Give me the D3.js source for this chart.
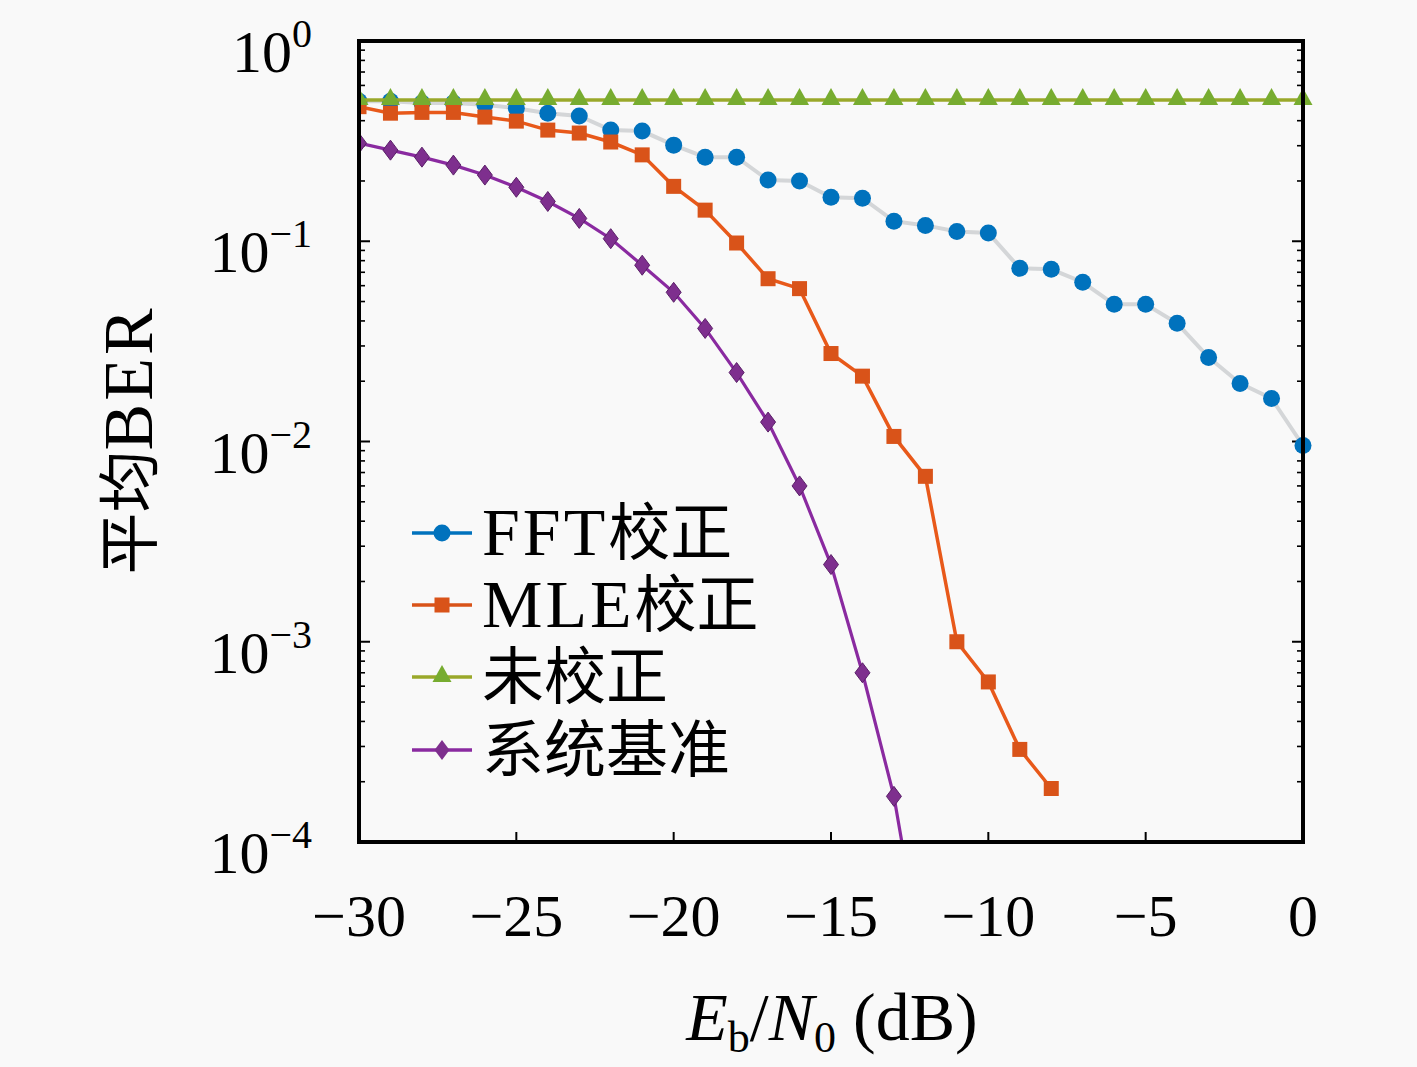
<!DOCTYPE html>
<html>
<head>
<meta charset="utf-8">
<script src="https://cdn.jsdelivr.net/npm/d3@7"></script>
<style>
  body { margin: 0; background: #f9f9f9; }
  svg { display: block; }
</style>
</head>
<body>
<div id="chart"></div>
<script>
// x values (dB)
const snr = d3.range(-30, 1, 1);

// series values
const fftBer = [0.50, 0.50, 0.49, 0.49, 0.48, 0.462, 0.436, 0.422, 0.359, 0.355,
  0.302, 0.263, 0.263, 0.202, 0.200, 0.166, 0.164, 0.126, 0.120, 0.112,
  0.110, 0.0733, 0.0724, 0.0624, 0.0484, 0.0484, 0.0389, 0.0263, 0.0195, 0.0164, 0.00955];
const mleSnr = d3.range(-30, -7, 1);
const mleBer = [0.47, 0.436, 0.44, 0.44, 0.417, 0.398, 0.359, 0.347, 0.313, 0.27,
  0.188, 0.143, 0.098, 0.065, 0.058, 0.0275, 0.0212, 0.0106, 0.0067, 0.001,
  0.00063, 0.00029, 0.000185];
const rawBer = snr.map(() => 0.507);
const refSnr = d3.range(-30, -11, 1);
const refBer = [0.309, 0.285, 0.263, 0.24, 0.214, 0.186, 0.158, 0.13, 0.103, 0.0759,
  0.0556, 0.0367, 0.0221, 0.0125, 0.0060, 0.00243, 0.00070, 0.000169, 0.000021];

const legendLabels = ["FFT校正", "MLE校正", "未校正", "系统基准"];
const xTicks = [-30, -25, -20, -15, -10, -5, 0];
const yExps = [0, -1, -2, -3, -4];

const W = 1417, H = 1067;
const pLeft = 359, pRight = 1303, pTop = 41, pBottom = 842;
const latin = "'Liberation Serif', 'DejaVu Serif', serif";
const cjk = "'Liberation Serif', 'Noto Sans CJK SC', sans-serif";

const svg = d3.select("#chart").append("svg")
  .attr("width", W)
  .attr("height", H);

svg.append("rect").attr("width", W).attr("height", H).attr("fill", "#f9f9f9");

const x = d3.scaleLinear().domain([-30, 0]).range([pLeft, pRight]);
const y = d3.scaleLog().domain([1e-4, 1]).range([pBottom, pTop]);

// clip for the lines
svg.append("clipPath").attr("id", "plotclip")
  .append("rect").attr("x", pLeft).attr("y", pTop - 20)
  .attr("width", pRight - pLeft + 20).attr("height", pBottom - pTop + 20);

// minor log ticks (inside, left and right)
const minor = [];
yExps.slice(0, 4).forEach(e => {
  for (let k = 2; k <= 9; k++) minor.push(k * Math.pow(10, e - 1));
});

const tickG = svg.append("g").attr("stroke", "#000");
minor.forEach(v => {
  tickG.append("line").attr("x1", pLeft).attr("x2", pLeft + 6)
    .attr("y1", y(v)).attr("y2", y(v)).attr("stroke-width", 1.6);
  tickG.append("line").attr("x1", pRight).attr("x2", pRight - 6)
    .attr("y1", y(v)).attr("y2", y(v)).attr("stroke-width", 1.6);
});
yExps.forEach(e => {
  tickG.append("line").attr("x1", pLeft).attr("x2", pLeft + 11)
    .attr("y1", y(Math.pow(10, e))).attr("y2", y(Math.pow(10, e))).attr("stroke-width", 2);
  tickG.append("line").attr("x1", pRight).attr("x2", pRight - 11)
    .attr("y1", y(Math.pow(10, e))).attr("y2", y(Math.pow(10, e))).attr("stroke-width", 2);
});
xTicks.forEach(t => {
  tickG.append("line").attr("x1", x(t)).attr("x2", x(t))
    .attr("y1", pBottom).attr("y2", pBottom - 10).attr("stroke-width", 2);
});

// lines
const plot = svg.append("g").attr("clip-path", "url(#plotclip)");

function series(xs, ys) {
  return xs.map((d, i) => ({ x: d, y: ys[i] }));
}
const line = d3.line().x(d => x(d.x)).y(d => y(d.y));

const fftData = series(snr, fftBer);
const mleData = series(mleSnr, mleBer);
const rawData = series(snr, rawBer);
const refData = series(refSnr, refBer);

plot.append("path").datum(fftData).attr("d", line)
  .attr("fill", "none").attr("stroke", "#d4d6d8").attr("stroke-width", 4);
plot.append("path").datum(mleData).attr("d", line)
  .attr("fill", "none").attr("stroke", "#e8591a").attr("stroke-width", 3.5);
plot.append("path").datum(refData).attr("d", line)
  .attr("fill", "none").attr("stroke", "#8a2aa0").attr("stroke-width", 3.2);

// marker shapes
const diamondPath = "M0,-10L7.5,0L0,10L-7.5,0Z";
const triPath = "M0,-10L9.5,7L-9.5,7Z";

plot.selectAll(".fft").data(fftData).enter().append("circle")
  .attr("cx", d => x(d.x)).attr("cy", d => y(d.y)).attr("r", 8.5)
  .attr("fill", "#0072BD");
plot.selectAll(".mle").data(mleData).enter().append("rect")
  .attr("x", d => x(d.x) - 7.5).attr("y", d => y(d.y) - 7.5)
  .attr("width", 15).attr("height", 15).attr("fill", "#D95319");
plot.selectAll(".ref").data(refData.filter(d => d.y >= 1e-4)).enter().append("path")
  .attr("d", diamondPath).attr("transform", d => `translate(${x(d.x)},${y(d.y)})`)
  .attr("fill", "#7E2F8E").attr("stroke", "#5a1f68").attr("stroke-width", 1);

plot.append("path").datum(rawData).attr("d", line)
  .attr("fill", "none").attr("stroke", "#9aa82a").attr("stroke-width", 3.5);
plot.selectAll(".raw").data(rawData).enter().append("path")
  .attr("d", triPath).attr("transform", d => `translate(${x(d.x)},${y(d.y) - 2})`)
  .attr("fill", "#77AC30");

// frame
svg.append("rect").attr("x", pLeft).attr("y", pTop)
  .attr("width", pRight - pLeft).attr("height", pBottom - pTop)
  .attr("fill", "none").attr("stroke", "#000").attr("stroke-width", 4);

// x tick labels
svg.append("g").selectAll("text").data(xTicks).enter().append("text")
  .attr("x", d => x(d)).attr("y", 936)
  .attr("text-anchor", "middle")
  .attr("font-family", latin).attr("font-size", 60)
  .text(d => d < 0 ? "\u2212" + Math.abs(d) : d);

// y tick labels 10^e
const yl = svg.append("g").selectAll("text").data(yExps).enter().append("text")
  .attr("x", 312).attr("y", d => y(Math.pow(10, d)) + 31)
  .attr("text-anchor", "end")
  .attr("font-family", latin).attr("font-size", 60);
yl.append("tspan").text("10");
yl.append("tspan").attr("dy", -25).attr("font-size", 40)
  .text(d => d < 0 ? "\u2212" + Math.abs(d) : d);

// mixed latin / chinese text helper
function mixed(sel, str, latinSize, cjkSize) {
  str.match(/[A-Za-z0-9 ]+|[^A-Za-z0-9 ]+/g).forEach(part => {
    const isLatin = /^[A-Za-z0-9 ]+$/.test(part);
    sel.append("tspan")
      .attr("font-family", isLatin ? latin : cjk)
      .attr("font-size", isLatin ? latinSize : cjkSize)
      .attr("letter-spacing", isLatin ? 3 : 0)
      .text(part);
  });
}

// axis titles
const ylab = svg.append("text")
  .attr("transform", "translate(152,440) rotate(-90)")
  .attr("text-anchor", "middle");
mixed(ylab, "平均BER", 70, 62);

const xt = svg.append("text").attr("x", 832).attr("y", 1040)
  .attr("text-anchor", "middle")
  .attr("font-family", latin).attr("font-size", 68);
xt.append("tspan").attr("font-style", "italic").text("E");
xt.append("tspan").attr("font-size", 44).attr("dy", 12).text("b");
xt.append("tspan").attr("dy", -12).text("/");
xt.append("tspan").attr("font-style", "italic").text("N");
xt.append("tspan").attr("font-size", 44).attr("dy", 12).text("0");
xt.append("tspan").attr("dy", -12).text(" (dB)");

// legend
const legendColors = ["#0072BD", "#D95319", "#9aa82a", "#8a2aa0"];
const legendY = [533, 605, 677, 750];
const leg = svg.append("g");
legendLabels.forEach((lab, i) => {
  const ly = legendY[i];
  leg.append("line").attr("x1", 412).attr("x2", 472).attr("y1", ly).attr("y2", ly)
    .attr("stroke", legendColors[i]).attr("stroke-width", 3.5);
  if (i === 0) {
    leg.append("circle").attr("cx", 442).attr("cy", ly).attr("r", 8.5).attr("fill", "#0072BD");
  } else if (i === 1) {
    leg.append("rect").attr("x", 434.5).attr("y", ly - 7.5).attr("width", 15).attr("height", 15)
      .attr("fill", "#D95319");
  } else if (i === 2) {
    leg.append("path").attr("d", triPath).attr("transform", `translate(442,${ly - 2})`)
      .attr("fill", "#77AC30");
  } else {
    leg.append("path").attr("d", diamondPath).attr("transform", `translate(442,${ly})`)
      .attr("fill", "#7E2F8E");
  }
  const t = leg.append("text").attr("x", 482).attr("y", ly + 22);
  mixed(t, lab, 68, 62);
});
</script>
</body>
</html>
